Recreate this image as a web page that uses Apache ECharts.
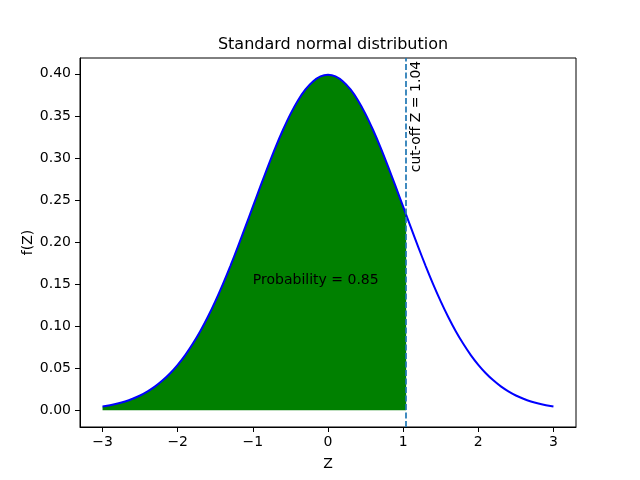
<!DOCTYPE html>
<html><head><meta charset="utf-8">
<script src="https://cdn.jsdelivr.net/npm/echarts@6/dist/echarts.min.js"></script>
<style>html,body{margin:0;padding:0;background:#fff}#c{width:640px;height:480px}</style>
</head><body><div id="c"></div>
<script>
// Z values (step 0.1 from -3 to 3)
const zValues = [-3.0,-2.9,-2.8,-2.7,-2.6,-2.5,-2.4,-2.3,-2.2,-2.1,-2.0,-1.9,-1.8,-1.7,-1.6,-1.5,-1.4,-1.3,-1.2,-1.1,-1.0,-0.9,-0.8,-0.7,-0.6,-0.5,-0.4,-0.3,-0.2,-0.1,0.0,0.1,0.2,0.3,0.4,0.5,0.6,0.7,0.8,0.9,1.0,1.1,1.2,1.3,1.4,1.5,1.6,1.7,1.8,1.9,2.0,2.1,2.2,2.3,2.4,2.5,2.6,2.7,2.8,2.9,3.0];
const densityValues = [0.0044,0.0060,0.0079,0.0104,0.0136,0.0175,0.0224,0.0283,0.0355,0.0440,0.0540,0.0656,0.0790,0.0940,0.1109,0.1295,0.1497,0.1714,0.1942,0.2179,0.2420,0.2661,0.2897,0.3123,0.3332,0.3521,0.3683,0.3814,0.3910,0.3970,0.3989,0.3970,0.3910,0.3814,0.3683,0.3521,0.3332,0.3123,0.2897,0.2661,0.2420,0.2179,0.1942,0.1714,0.1497,0.1295,0.1109,0.0940,0.0790,0.0656,0.0540,0.0440,0.0355,0.0283,0.0224,0.0175,0.0136,0.0104,0.0079,0.0060,0.0044];
const cutoffZ = 1.04;
const cutoffDensity = 0.2323;
const probability = 0.85;
const xTicks = [-3,-2,-1,0,1,2,3];
const yTicks = [0,0.05,0.10,0.15,0.20,0.25,0.30,0.35,0.40];
const titleText = 'Standard normal distribution';
const xName = 'Z';
const yName = 'f(Z)';

const curve = zValues.map((z,i)=>[z, densityValues[i]]);
const fillPts = zValues.map((z,i)=>[z, densityValues[i]]).filter(p=>p[0] <= cutoffZ);
fillPts.push([cutoffZ, cutoffDensity]);

const FONT = 'DejaVu Sans';
const fmtMinus = s => String(s).replace('-', '\u2212');
const chart = echarts.init(document.getElementById('c'), null, {renderer:'canvas'});
const option = {
  animation:false,
  backgroundColor:'#fff',
  title:{text:titleText, left:328, textAlign:'center', top:32,
    textStyle:{fontFamily:FONT, fontSize:16, fontWeight:'normal', color:'#000'}},
  grid:{left:80, right:64, top:58, bottom:53, show:true, borderColor:'#000', borderWidth:1, containLabel:false},
  xAxis:{type:'value', min:-3.3, max:3.3, name:xName, nameLocation:'middle', nameGap:30, nameMoveOverlap:false,
    nameTextStyle:{fontFamily:FONT, fontSize:14, color:'#000'},
    splitLine:{show:false},
    axisLine:{show:true, onZero:false, lineStyle:{color:'#000', width:1}},
    axisTick:{show:true, length:5, inside:false, customValues:xTicks, lineStyle:{color:'#000'}},
    axisLabel:{customValues:xTicks, margin:8, fontFamily:FONT, fontSize:14, color:'#000', formatter:v=>fmtMinus(v)}},
  yAxis:{type:'value', min:-0.01995, max:0.4188, name:yName, nameLocation:'middle', nameGap:45, nameMoveOverlap:false,
    nameTextStyle:{fontFamily:FONT, fontSize:14, color:'#000'},
    splitLine:{show:false},
    axisLine:{show:true, onZero:false, lineStyle:{color:'#000', width:1}},
    axisTick:{show:true, length:5, inside:false, customValues:yTicks, lineStyle:{color:'#000'}},
    axisLabel:{customValues:yTicks, margin:9, fontFamily:FONT, fontSize:14, color:'#000', formatter:v=>v.toFixed(2)}},
  series:[
    {type:'line', data:fillPts, showSymbol:false, symbol:'none', smooth:0.3, lineStyle:{width:0, color:'#008000'},
      areaStyle:{color:'#008000', opacity:1, origin:0}, z:2},
    {type:'line', data:curve, showSymbol:false, symbol:'none', smooth:0.3, lineStyle:{color:'#0000ff', width:2}, z:3,
      markLine:{silent:true, symbol:'none', label:{show:false},
        lineStyle:{color:'#1f77b4', type:[6,2.5], width:1.7},
        data:[{xAxis:cutoffZ}]}}
  ]
};
chart.setOption(option);
const pProb = chart.convertToPixel({gridIndex:0}, [-1.0, 0.15]);
const pCut = chart.convertToPixel({gridIndex:0}, [cutoffZ, 0.283]);
chart.setOption({graphic:[
  {type:'text', x:pProb[0], y:pProb[1]+3, style:{text:'Probability = ' + probability.toFixed(2), font:'14px "DejaVu Sans"', fill:'#000', align:'left', verticalAlign:'bottom'}, z:10},
  {type:'text', x:pCut[0]+10, y:pCut[1], rotation:Math.PI/2, style:{text:'cut-off Z = ' + cutoffZ.toFixed(2), font:'14px "DejaVu Sans"', fill:'#000', align:'left', verticalAlign:'middle'}, z:10}
]});
</script></body></html>
